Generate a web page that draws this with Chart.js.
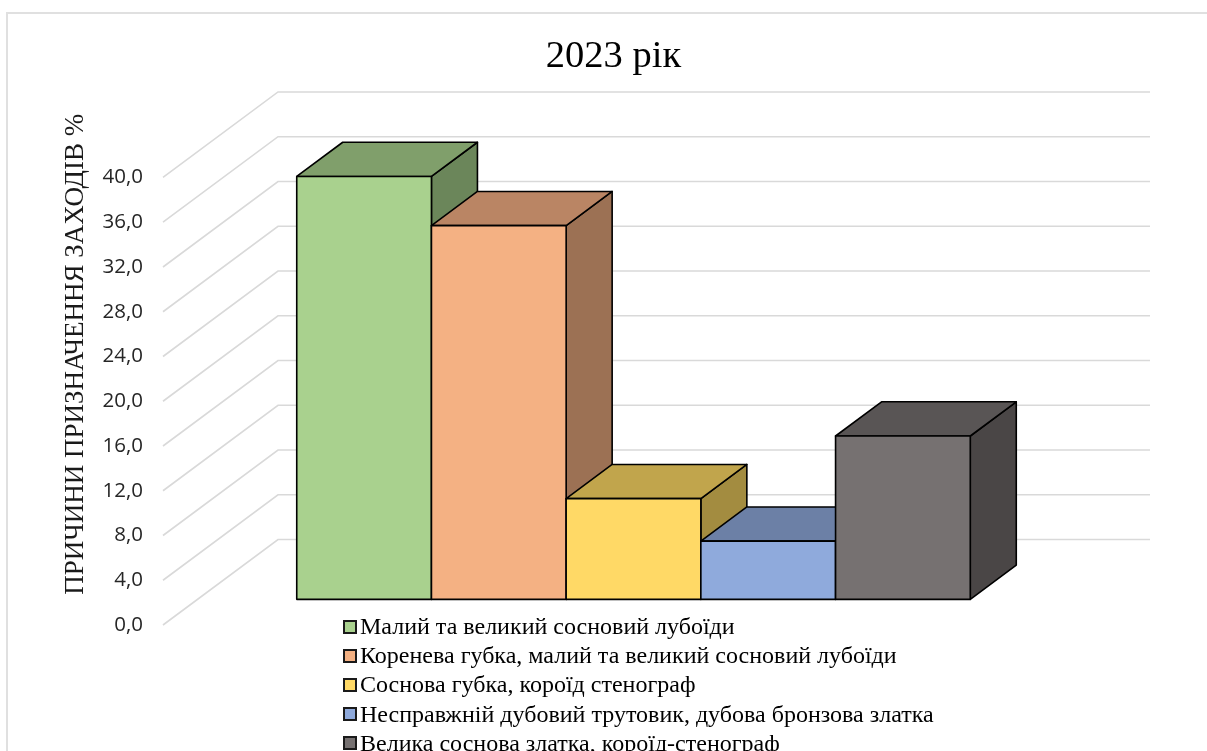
<!DOCTYPE html>
<html lang="uk">
<head>
<meta charset="UTF-8">
<meta name="viewport" content="width=device-width, initial-scale=1.0">
<title>2023 рік</title>
<script src="https://cdn.jsdelivr.net/npm/chart.js"></script>
<style>
  html, body { margin: 0; padding: 0; background: #fff; overflow: hidden; }
  .frame {
    position: absolute; left: 6px; top: 12px; width: 1300px; height: 800px;
    border: 2px solid #e0e0e0; box-sizing: border-box;
  }
  #wrap { position: absolute; left: 0; top: 0; width: 1207px; height: 751px; }
  #legend {
    position: absolute; left: 343px; top: 612px;
    font-family: 'Liberation Serif', 'Times New Roman', serif; font-size: 24px; color: #000;
  }
  #legend .item { height: 29.2px; display: flex; align-items: center; white-space: nowrap; }
  #legend .box { width: 10px; height: 10px; border: 2px solid #1a1a1a; margin-right: 3px; flex: none; }
</style>
</head>
<body>
<div class="frame"></div>
<div id="wrap"><canvas id="chart"></canvas></div>
<div id="legend"></div>

<script>
// причини призначення заходів, %
const seriesNames = [
  'Малий та великий сосновий лубоїди',
  'Коренева губка, малий та великий сосновий лубоїди',
  'Соснова губка, короїд стенограф',
  'Несправжній дубовий трутовик, дубова бронзова златка',
  'Велика соснова златка, короїд-стенограф'
];
const seriesValues = [37.8, 33.4, 9.0, 5.2, 14.6];
const yTicks = [0, 4, 8, 12, 16, 20, 24, 28, 32, 36, 40];

const frontColors = ['#A9D18E', '#F4B183', '#FFD966', '#8FAADC', '#767171'];
const topColors   = ['#809F6B', '#BA8564', '#C1A54C', '#6C80A6', '#595555'];
const sideColors  = ['#6B865A', '#9C7154', '#A38C40', '#5A6B8B', '#4A4646'];

// depth of the floor (front edge -> back wall) and where the boxes sit in it
const DEPTH = { x: 115, y: -85.5 };
const FRONT_AT = 0.30;
const BOX_DEPTH = 0.40;

const box3d = {
  id: 'box3d',
  beforeDatasetsDraw(chart) {
    const { ctx, chartArea, scales: { y } } = chart;

    // side wall + back wall grid
    ctx.save();
    ctx.strokeStyle = '#d9d9d9';
    ctx.lineWidth = 1.6;
    yTicks.forEach(v => {
      const py = y.getPixelForValue(v);
      ctx.beginPath();
      ctx.moveTo(chartArea.left, py);
      ctx.lineTo(chartArea.left + DEPTH.x, py + DEPTH.y);
      ctx.lineTo(chartArea.right + DEPTH.x, py + DEPTH.y);
      ctx.stroke();
    });
    ctx.restore();

    // boxes, left to right so each one covers the previous side face
    const fx = DEPTH.x * FRONT_AT, fy = DEPTH.y * FRONT_AT;
    const bx = DEPTH.x * BOX_DEPTH, by = DEPTH.y * BOX_DEPTH;
    ctx.save();
    ctx.strokeStyle = '#000';
    ctx.lineWidth = 1.6;
    ctx.lineJoin = 'round';
    chart.data.datasets.forEach((ds, i) => {
      const meta = chart.getDatasetMeta(i);
      meta.data.forEach(bar => {
        const p = bar.getProps(['x', 'y', 'base', 'width'], true);
        const l = p.x - p.width / 2 + fx, r = p.x + p.width / 2 + fx;
        const t = p.y + fy, b = p.base + fy;

        const face = (pts, fill) => {
          ctx.beginPath();
          ctx.moveTo(pts[0][0], pts[0][1]);
          for (let k = 1; k < pts.length; k++) ctx.lineTo(pts[k][0], pts[k][1]);
          ctx.closePath();
          ctx.fillStyle = fill;
          ctx.fill();
          ctx.stroke();
        };
        face([[r, t], [r + bx, t + by], [r + bx, b + by], [r, b]], sideColors[i]);
        face([[l, t], [l + bx, t + by], [r + bx, t + by], [r, t]], topColors[i]);
        face([[l, t], [r, t], [r, b], [l, b]], frontColors[i]);
      });
    });
    ctx.restore();
  },
  // the flat bars are replaced by the boxes above
  beforeDatasetDraw() {
    return false;
  }
};

const datasets = seriesNames.map((name, i) => ({
  label: name,
  data: [seriesValues[i]],
  backgroundColor: frontColors[i],
  borderWidth: 0
}));

new Chart(document.getElementById('chart'), {
  type: 'bar',
  data: { labels: [''], datasets },
  options: {
    responsive: true,
    maintainAspectRatio: false,
    animation: false,
    layout: { padding: { left: 20, right: 0, top: 0, bottom: 126 } },
    datasets: { bar: { categoryPercentage: 0.7724, barPercentage: 1 } },
    plugins: {
      legend: { display: false },
      tooltip: { enabled: false },
      title: {
        display: true,
        text: '2023 рік',
        color: '#000',
        font: { family: "'Liberation Serif', 'Times New Roman', serif", size: 38.5, weight: 'normal' },
        padding: { top: 34, bottom: 3.3 }
      }
    },
    scales: {
      x: { display: false },
      y: {
        min: 0,
        max: 48.4,
        afterBuildTicks: axis => { axis.ticks = yTicks.map(v => ({ value: v })); },
        afterFit: axis => { axis.width = 143; },
        grid: { display: false },
        border: { display: false },
        ticks: {
          padding: 12,
          color: '#262626',
          font: { family: "'Open Sans', sans-serif", size: 20.5 },
          callback: v => v.toFixed(1).replace('.', ',')
        },
        title: {
          display: true,
          text: 'ПРИЧИНИ ПРИЗНАЧЕННЯ ЗАХОДІВ %',
          color: '#1a1a1a',
          font: { family: "'Liberation Serif', 'Times New Roman', serif", size: 27 },
          padding: { top: 39.5, bottom: 4 }
        }
      },
      // empty space to the right of the back wall
      yRight: {
        position: 'right',
        display: true,
        afterFit: axis => { axis.width = 172; },
        grid: { display: false },
        border: { display: false },
        ticks: { display: false }
      }
    }
  },
  plugins: [box3d]
});

// legend: one entry per line under the plot
const legend = document.getElementById('legend');
seriesNames.forEach((name, i) => {
  const row = document.createElement('div');
  row.className = 'item';
  const sw = document.createElement('span');
  sw.className = 'box';
  sw.style.background = frontColors[i];
  const txt = document.createElement('span');
  txt.textContent = name;
  row.appendChild(sw);
  row.appendChild(txt);
  legend.appendChild(row);
});
</script>
</body>
</html>
